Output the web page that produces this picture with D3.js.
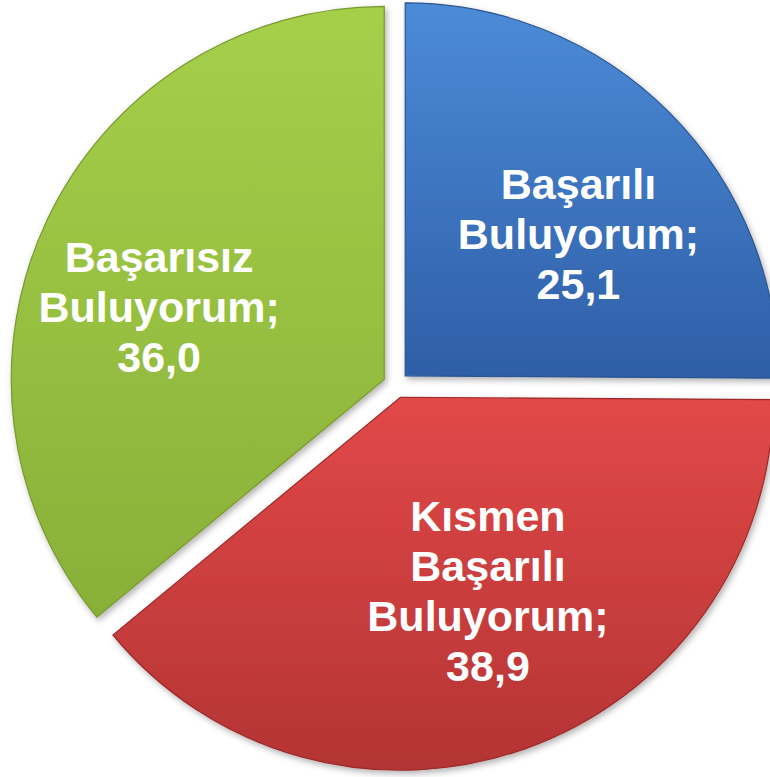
<!DOCTYPE html>
<html lang="tr">
<head>
  <meta charset="UTF-8">
  <title>Başarı Değerlendirmesi</title>
  <script src="https://d3js.org/d3.v7.min.js"></script>
  <style>
    body { margin: 0; background: #fff; }
    .label { font-family: "Liberation Sans", Arial, sans-serif; font-weight: bold; fill: #fff; }
  </style>
</head>
<body>
  <svg id="chart" width="770" height="777"></svg>
  <script>
    // Data
    const categories = ["Başarılı Buluyorum", "Kısmen Başarılı Buluyorum", "Başarısız Buluyorum"];
    const values = [25.1, 38.9, 36.0];

    // Slice colours: top / bottom of gradient, edge
    const topColors = ["#4c8bd8", "#e24848", "#a6cf4a"];
    const bottomColors = ["#2e5ea6", "#b43434", "#89b038"];
    const edgeColors = ["#2a5490", "#9c2a2a", "#78992f"];

    const svg = d3.select("#chart");
    const cx = 396, cy = 385, radius = 373, explode = 13;
    const labelR = 240;
    // small nudges so labels sit where the original placed them
    const labelNudge = [[3, 27], [7, -32], [-8, 30]];

    const defs = svg.append("defs");
    const shadow = defs.append("filter").attr("id", "shadow")
      .attr("x", "-10%").attr("y", "-10%").attr("width", "120%").attr("height", "120%");
    shadow.append("feDropShadow")
      .attr("dx", 2).attr("dy", 3).attr("stdDeviation", 3)
      .attr("flood-color", "#000").attr("flood-opacity", 0.3);

    categories.forEach((c, i) => {
      const lg = defs.append("linearGradient").attr("id", "grad" + i)
        .attr("x1", 0).attr("y1", 0).attr("x2", 0).attr("y2", 1);
      lg.append("stop").attr("offset", "0%").attr("stop-color", topColors[i]);
      lg.append("stop").attr("offset", "100%").attr("stop-color", bottomColors[i]);
    });

    const pie = d3.pie().sort(null).value(d => d);
    const arcs = pie(values);
    const arc = d3.arc().innerRadius(0).outerRadius(radius);
    const labelArc = d3.arc().innerRadius(labelR).outerRadius(labelR);

    const g = svg.append("g").attr("transform", `translate(${cx},${cy})`);

    const slices = g.selectAll(".slice")
      .data(arcs)
      .enter().append("g")
      .attr("class", "slice")
      .attr("transform", d => {
        const a = (d.startAngle + d.endAngle) / 2;
        return `translate(${explode * Math.sin(a)},${-explode * Math.cos(a)})`;
      });

    slices.append("path")
      .attr("d", arc)
      .attr("fill", (d, i) => `url(#grad${i})`)
      .attr("stroke", (d, i) => edgeColors[i])
      .attr("stroke-width", 1.2)
      .attr("filter", "url(#shadow)");

    const fmt = v => v.toFixed(1).replace(".", ",");
    const lineH = 50;

    slices.each(function(d, i) {
      const words = categories[i].split(" ");
      words[words.length - 1] += ";";
      const lines = words.concat([fmt(values[i])]);
      const [lx, ly] = labelArc.centroid(d);
      const x = lx + labelNudge[i][0];
      const y = ly + labelNudge[i][1];
      const t = d3.select(this).append("text")
        .attr("class", "label")
        .attr("text-anchor", "middle")
        .style("font-size", "43px");
      const y0 = y - (lines.length - 1) * lineH / 2 + 15;
      lines.forEach((l, k) => {
        t.append("tspan").attr("x", x).attr("y", y0 + k * lineH).text(l);
      });
    });
  </script>
</body>
</html>
